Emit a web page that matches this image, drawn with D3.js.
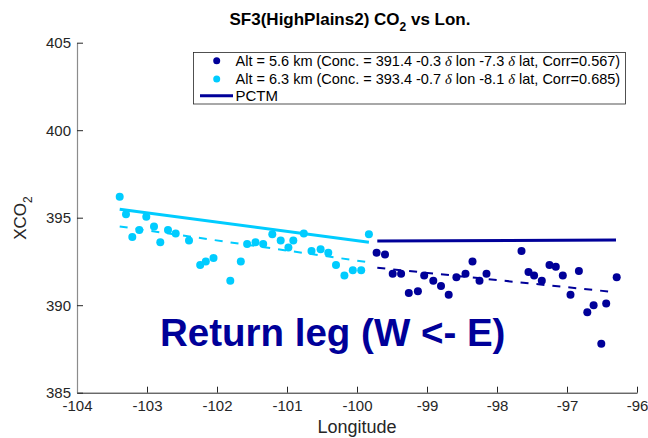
<!DOCTYPE html>
<html>
<head>
<meta charset="utf-8">
<script src="https://cdn.jsdelivr.net/npm/d3@7"></script>
<style>
body { margin: 0; background: #fff; }
svg { font-family: "Liberation Sans", Arial, sans-serif; }
</style>
</head>
<body>
<svg id="chart" width="648" height="438"></svg>
<script>
// data
let cyanLon = [-103.39, -103.30, -103.01, -103.11, -103.21, -102.90, -102.81, -102.70, -102.59, -102.40,
    -102.24, -102.16, -102.05, -101.81, -101.66, -101.57, -101.45, -101.34, -101.21, -101.09,
    -100.98, -100.91, -100.76, -100.65, -100.52, -100.41, -100.30, -100.18, -100.06, -99.94, -99.83]
let cyanVal = [396.2, 395.2, 395.05, 394.3, 393.9, 394.5, 393.6, 394.3, 394.1, 393.7,
    392.3, 392.5, 392.7, 391.4, 392.5, 393.5, 393.6, 393.5, 394.05, 393.7,
    393.3, 393.7, 394.1, 393.1, 393.2, 393.0, 392.3, 391.7, 392.0, 392.0, 394.05]

let navyLon = [-99.72, -99.60, -99.49, -99.37, -99.26, -99.13, -99.04, -98.91, -98.80, -98.69,
    -98.58, -98.45, -98.35, -98.25, -98.15, -97.65, -97.55, -97.47, -97.36, -97.25,
    -97.16, -97.06, -96.95, -96.83, -96.71, -96.62, -96.51, -96.44, -96.29]
let navyVal = [393.0, 392.9, 391.8, 391.8, 390.7, 390.8, 391.7, 391.4, 391.1, 390.6,
    391.6, 391.8, 392.5, 391.4, 391.8, 393.1, 391.9, 391.7, 391.4, 392.3,
    392.2, 391.7, 390.6, 391.95, 389.6, 390.0, 387.8, 390.1, 391.6]

// fit lines (dashed) and PCTM lines (solid): [lon, value] end points
let cyanFit = [[-103.39, 394.5], [-99.83, 392.45]]
let cyanPctm = [[-103.39, 395.48], [-99.83, 393.6]]
let navyFit = [[-99.71, 392.14], [-96.30, 390.74]]
let navyPctm = [[-99.71, 393.67], [-96.30, 393.73]]

let xTicks = [-104, -103, -102, -101, -100, -99, -98, -97, -96]
let yTicks = [385, 390, 395, 400, 405]

let legendRows = [
    {label: "Alt = 5.6 km (Conc. = 391.4 -0.3 ", a: " lon -7.3 ", b: " lat, Corr=0.567)", color: "#000099"},
    {label: "Alt = 6.3 km (Conc. = 393.4 -0.7 ", a: " lon -8.1 ", b: " lat, Corr=0.685)", color: "#00ccff"}
]

let navy = "#000099"
let cyan = "#00ccff"

let svg = d3.select('#chart')
let mLeft = 77, mRight = 637, mTop = 42.7, mBottom = 392.7

let x = d3.scaleLinear().domain([-104, -96]).range([mLeft, mRight])
let y = d3.scaleLinear().domain([385, 405]).range([mBottom, mTop])

// axes
let xAxis = svg.append("g")
    .attr("transform", `translate(0,${mBottom})`)
    .call(d3.axisBottom(x).tickValues(xTicks).tickSizeInner(-6).tickSizeOuter(0).tickFormat(d3.format("d")))
xAxis.select(".domain").attr("stroke", "#262626")
xAxis.selectAll(".tick line").attr("stroke", "#262626")
xAxis.selectAll("text").attr("font-size", 15).attr("fill", "#262626").attr("dy", "1.05em")
    .text(d => d < 0 ? "-" + Math.abs(d) : d)

let yAxis = svg.append("g")
    .attr("transform", `translate(${mLeft},0)`)
    .call(d3.axisLeft(y).tickValues(yTicks).tickSizeInner(-6).tickSizeOuter(0))
yAxis.select(".domain").attr("stroke", "#8c8c8c").attr("stroke-width", 1.2)
yAxis.selectAll(".tick line").attr("stroke", "#262626")
yAxis.selectAll("text").attr("font-size", 15).attr("fill", "#262626").attr("x", -6)

let line = d3.line().x(d => x(d[0])).y(d => y(d[1]))

svg.append("path").datum(cyanPctm).attr("d", line)
    .attr("stroke", cyan).attr("stroke-width", 3).attr("fill", "none")
svg.append("path").datum(cyanFit).attr("d", line)
    .attr("stroke", cyan).attr("stroke-width", 2).attr("stroke-dasharray", "8,8").attr("fill", "none")
svg.append("path").datum(navyPctm).attr("d", line)
    .attr("stroke", navy).attr("stroke-width", 3).attr("fill", "none")
svg.append("path").datum(navyFit).attr("d", line)
    .attr("stroke", navy).attr("stroke-width", 2).attr("stroke-dasharray", "8,8").attr("fill", "none")

svg.append("g").selectAll("circle")
    .data(d3.zip(cyanLon, cyanVal))
    .enter().append("circle")
    .attr("cx", d => x(d[0])).attr("cy", d => y(d[1])).attr("r", 4)
    .attr("fill", cyan)

svg.append("g").selectAll("circle")
    .data(d3.zip(navyLon, navyVal))
    .enter().append("circle")
    .attr("cx", d => x(d[0])).attr("cy", d => y(d[1])).attr("r", 4)
    .attr("fill", navy)

// big label
svg.append("text")
    .attr("x", 160).attr("y", 346)
    .attr("font-size", 38.5).attr("font-weight", "bold")
    .attr("fill", navy)
    .text("Return leg (W <- E)")

// legend
let lg = svg.append("g")
lg.append("rect").attr("x", 193.5).attr("y", 52.5).attr("width", 432).attr("height", 51.5)
    .attr("fill", "#fff").attr("stroke", "#262626").attr("stroke-width", 0.8)
legendRows.forEach(function (r, i) {
    let yy = 60.7 + i * 18.3
    lg.append("circle").attr("cx", 216.7).attr("cy", yy).attr("r", 3.5).attr("fill", r.color)
    let t = lg.append("text").attr("x", 235.5).attr("y", yy + 5).attr("font-size", 14.5).attr("fill", "#000")
    t.append("tspan").text(r.label)
    t.append("tspan").attr("font-family", "Liberation Serif, serif").attr("font-style", "italic").text("δ")
    t.append("tspan").text(r.a)
    t.append("tspan").attr("font-family", "Liberation Serif, serif").attr("font-style", "italic").text("δ")
    t.append("tspan").text(r.b)
})
lg.append("line").attr("x1", 200).attr("x2", 233).attr("y1", 95.7).attr("y2", 95.7)
    .attr("stroke", navy).attr("stroke-width", 3)
lg.append("text").attr("x", 235.5).attr("y", 100.5).attr("font-size", 15).text("PCTM")

// title
let title = svg.append("text").attr("x", 350).attr("y", 25)
    .attr("text-anchor", "middle").attr("font-size", 17).attr("font-weight", "bold")
title.append("tspan").text("SF3(HighPlains2) CO")
title.append("tspan").attr("font-size", 12).attr("dy", 6).text("2")
title.append("tspan").attr("dy", -6).text(" vs Lon.")

// axis labels
svg.append("text").attr("x", 357).attr("y", 433)
    .attr("text-anchor", "middle").attr("font-size", 18).attr("fill", "#262626").text("Longitude")

let yl = svg.append("text").attr("transform", "translate(26,218) rotate(-90)")
    .attr("text-anchor", "middle").attr("font-size", 17).attr("fill", "#262626")
yl.append("tspan").text("XCO")
yl.append("tspan").attr("font-size", 12).attr("dy", 6).text("2")
</script>
</body>
</html>
